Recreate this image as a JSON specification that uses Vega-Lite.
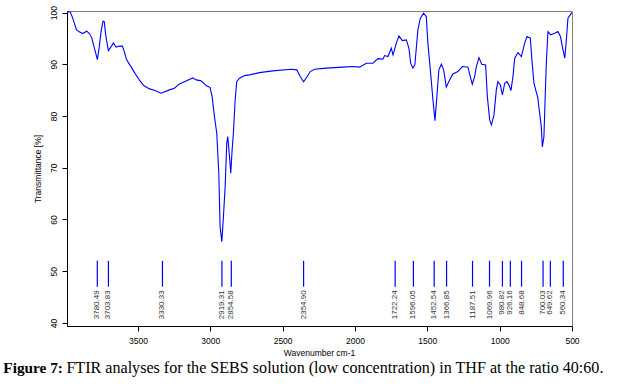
{
  "$schema": "https://vega.github.io/schema/vega-lite/v6.json",
  "width": 505,
  "height": 315,
  "autosize": "none",
  "padding": {"left": 67, "top": 11, "right": 51, "bottom": 63},
  "background": "white",
  "config": {
    "view": {"stroke": "#808080", "strokeWidth": 1},
    "font": "Liberation Sans",
    "axis": {"grid": false, "domainColor": "black", "tickColor": "black", "labelColor": "black", "titleColor": "black", "labelFont": "Liberation Sans", "titleFont": "Liberation Sans", "titleFontWeight": "normal"}
  },
  "datasets": {
    "spectrum": [
      {"wn": 3990, "T": 100.1}, {"wn": 3967, "T": 100.1}, {"wn": 3951, "T": 98.97}, {"wn": 3925, "T": 96.71},
      {"wn": 3905, "T": 96.27}, {"wn": 3882, "T": 95.94}, {"wn": 3854, "T": 96.4}, {"wn": 3835, "T": 95.94},
      {"wn": 3819, "T": 95.11}, {"wn": 3801, "T": 93.17}, {"wn": 3780, "T": 90.9}, {"wn": 3768, "T": 93.17},
      {"wn": 3754, "T": 96.4}, {"wn": 3741, "T": 98.34}, {"wn": 3732, "T": 98.2}, {"wn": 3723, "T": 95.74},
      {"wn": 3704, "T": 92.65}, {"wn": 3678, "T": 93.69}, {"wn": 3669, "T": 94.14}, {"wn": 3651, "T": 93.31},
      {"wn": 3628, "T": 93.5}, {"wn": 3607, "T": 93.5}, {"wn": 3593, "T": 92.34}, {"wn": 3579, "T": 90.9},
      {"wn": 3547, "T": 89.5}, {"wn": 3519, "T": 88.2}, {"wn": 3489, "T": 86.92}, {"wn": 3460, "T": 85.88},
      {"wn": 3420, "T": 85.24}, {"wn": 3386, "T": 84.99}, {"wn": 3340, "T": 84.41}, {"wn": 3282, "T": 85.05},
      {"wn": 3248, "T": 85.38}, {"wn": 3213, "T": 86.21}, {"wn": 3167, "T": 86.79}, {"wn": 3121, "T": 87.37},
      {"wn": 3097, "T": 86.98}, {"wn": 3063, "T": 86.79}, {"wn": 3028, "T": 85.88}, {"wn": 3001, "T": 85.49},
      {"wn": 2987, "T": 83.75}, {"wn": 2971, "T": 79.88}, {"wn": 2955, "T": 76.67}, {"wn": 2941, "T": 68.94},
      {"wn": 2932, "T": 58.61}, {"wn": 2920, "T": 55.71}, {"wn": 2909, "T": 60.54}, {"wn": 2897, "T": 66.34},
      {"wn": 2886, "T": 74.74}, {"wn": 2879, "T": 76.02}, {"wn": 2867, "T": 72.15}, {"wn": 2858, "T": 68.94},
      {"wn": 2849, "T": 73.44}, {"wn": 2840, "T": 76.67}, {"wn": 2828, "T": 83.11}, {"wn": 2817, "T": 86.65},
      {"wn": 2798, "T": 87.31}, {"wn": 2763, "T": 87.81}, {"wn": 2729, "T": 87.95}, {"wn": 2660, "T": 88.39},
      {"wn": 2568, "T": 88.72}, {"wn": 2441, "T": 89.05}, {"wn": 2402, "T": 88.92}, {"wn": 2378, "T": 87.62},
      {"wn": 2355, "T": 86.6}, {"wn": 2333, "T": 87.5}, {"wn": 2309, "T": 88.59}, {"wn": 2279, "T": 89.05},
      {"wn": 2198, "T": 89.25}, {"wn": 2084, "T": 89.44}, {"wn": 2015, "T": 89.56}, {"wn": 1968, "T": 89.44},
      {"wn": 1922, "T": 90.21}, {"wn": 1876, "T": 90.21}, {"wn": 1842, "T": 91.1}, {"wn": 1807, "T": 90.99},
      {"wn": 1795, "T": 91.68}, {"wn": 1772, "T": 91.49}, {"wn": 1749, "T": 93.11}, {"wn": 1737, "T": 91.82},
      {"wn": 1714, "T": 94.08}, {"wn": 1696, "T": 95.49}, {"wn": 1673, "T": 94.58}, {"wn": 1645, "T": 94.72},
      {"wn": 1627, "T": 93.11}, {"wn": 1615, "T": 90.21}, {"wn": 1600, "T": 89.25}, {"wn": 1586, "T": 89.88},
      {"wn": 1565, "T": 96.65}, {"wn": 1548, "T": 98.92}, {"wn": 1526, "T": 99.88}, {"wn": 1507, "T": 99.23},
      {"wn": 1496, "T": 94.08}, {"wn": 1479, "T": 88.92}, {"wn": 1461, "T": 83.11}, {"wn": 1447, "T": 79.11},
      {"wn": 1434, "T": 83.75}, {"wn": 1420, "T": 88.92}, {"wn": 1403, "T": 90.02}, {"wn": 1387, "T": 88.92},
      {"wn": 1369, "T": 85.57}, {"wn": 1346, "T": 86.98}, {"wn": 1323, "T": 88.14}, {"wn": 1288, "T": 88.59},
      {"wn": 1258, "T": 89.56}, {"wn": 1219, "T": 89.44}, {"wn": 1203, "T": 87.62}, {"wn": 1189, "T": 86.15},
      {"wn": 1173, "T": 87.62}, {"wn": 1161, "T": 89.56}, {"wn": 1143, "T": 91.3}, {"wn": 1124, "T": 90.02},
      {"wn": 1097, "T": 89.88}, {"wn": 1085, "T": 83.75}, {"wn": 1069, "T": 79.25}, {"wn": 1057, "T": 78.28},
      {"wn": 1039, "T": 80.21}, {"wn": 1023, "T": 85.05}, {"wn": 1012, "T": 86.65}, {"wn": 995, "T": 86.02},
      {"wn": 981, "T": 84.08}, {"wn": 965, "T": 86.34}, {"wn": 950, "T": 86.65}, {"wn": 936, "T": 86.02},
      {"wn": 922, "T": 84.91}, {"wn": 908, "T": 87.62}, {"wn": 896, "T": 91.18}, {"wn": 873, "T": 92.26},
      {"wn": 850, "T": 91.49}, {"wn": 827, "T": 94.08}, {"wn": 811, "T": 95.36}, {"wn": 788, "T": 95.05},
      {"wn": 777, "T": 90.85}, {"wn": 763, "T": 86.34}, {"wn": 746, "T": 84.53}, {"wn": 736, "T": 83.5},
      {"wn": 728, "T": 81.5}, {"wn": 712, "T": 77.95}, {"wn": 705, "T": 74.0}, {"wn": 694, "T": 76.02},
      {"wn": 685, "T": 84.0}, {"wn": 677, "T": 90.5}, {"wn": 666, "T": 96.32}, {"wn": 647, "T": 95.69},
      {"wn": 620, "T": 96.02}, {"wn": 597, "T": 96.32}, {"wn": 580, "T": 95.36}, {"wn": 562, "T": 92.79},
      {"wn": 550, "T": 91.18}, {"wn": 539, "T": 94.72}, {"wn": 528, "T": 98.92}, {"wn": 504, "T": 99.88},
      {"wn": 500, "T": 100.0}
    ],
    "peaks": [
      {"wn": 3780.49, "label": "3780.49"}, {"wn": 3703.83, "label": "3703.83"}, {"wn": 3330.33, "label": "3330.33"},
      {"wn": 2919.31, "label": "2919.31"}, {"wn": 2854.58, "label": "2854.58"}, {"wn": 2354.9, "label": "2354.90"},
      {"wn": 1722.24, "label": "1722.24"}, {"wn": 1596.05, "label": "1596.05"}, {"wn": 1452.54, "label": "1452.54"},
      {"wn": 1366.85, "label": "1366.85"}, {"wn": 1187.51, "label": "1187.51"}, {"wn": 1069.96, "label": "1069.96"},
      {"wn": 980.82, "label": "980.82"}, {"wn": 926.16, "label": "926.16"}, {"wn": 848.68, "label": "848.68"},
      {"wn": 700.03, "label": "700.03"}, {"wn": 649.62, "label": "649.62"}, {"wn": 560.34, "label": "560.34"}
    ]
  },
  "layer": [
    {
      "data": {"name": "spectrum"},
      "mark": {"type": "line", "color": "#0000ff", "strokeWidth": 1.1},
      "encoding": {
        "x": {"field": "wn", "type": "quantitative", "sort": null,
          "scale": {"domain": [3990, 500], "nice": false, "zero": false},
          "axis": {"values": [3500, 3000, 2500, 2000, 1500, 1000, 500], "format": "d", "title": "Wavenumber cm-1",
            "tickSize": 5, "labelPadding": 5, "labelFontSize": 8.5, "titleFontSize": 8.5, "labelFlush": false,
            "titleY": 26.5, "titleBaseline": "middle", "titleX": 252}},
        "y": {"field": "T", "type": "quantitative",
          "scale": {"domain": [39.4, 100.3], "nice": false, "zero": false},
          "axis": {"values": [40, 50, 60, 70, 80, 90, 100], "title": "Transmittance [%]",
            "labelAngle": 270, "labelAlign": "center", "labelBaseline": "alphabetic", "labelPadding": 6,
            "tickSize": 5, "labelFontSize": 8.5, "titleFontSize": 8.5,
            "titleX": -30, "titleY": 157.5, "titleAngle": 270, "titleAlign": "center", "titleBaseline": "middle"}}
      }
    },
    {
      "data": {"name": "peaks"},
      "mark": {"type": "rule", "color": "#0000ff", "strokeWidth": 1.2},
      "encoding": {
        "x": {"field": "wn", "type": "quantitative"},
        "y": {"datum": 52},
        "y2": {"datum": 47}
      }
    },
    {
      "data": {"name": "peaks"},
      "mark": {"type": "text", "angle": 270, "align": "right", "baseline": "middle", "fontSize": 8, "color": "#333333", "font": "Liberation Sans"},
      "encoding": {
        "x": {"field": "wn", "type": "quantitative"},
        "y": {"datum": 46.3},
        "text": {"field": "label"}
      }
    },
    {
      "data": {"values": [{"part": "Figure 7:"}]},
      "mark": {"type": "text", "align": "left", "baseline": "alphabetic", "font": "Liberation Serif", "fontSize": 15.3, "fontWeight": "bold", "color": "black"},
      "encoding": {
        "x": {"datum": 4430},
        "y": {"datum": 30.3},
        "text": {"field": "part"}
      }
    },
    {
      "data": {"values": [{"part": "FTIR analyses for the SEBS solution (low concentration) in THF at the ratio 40:60."}]},
      "mark": {"type": "text", "align": "left", "baseline": "alphabetic", "font": "Liberation Serif", "fontSize": 16.1, "color": "black"},
      "encoding": {
        "x": {"datum": 3994},
        "y": {"datum": 30.3},
        "text": {"field": "part"}
      }
    }
  ]
}
